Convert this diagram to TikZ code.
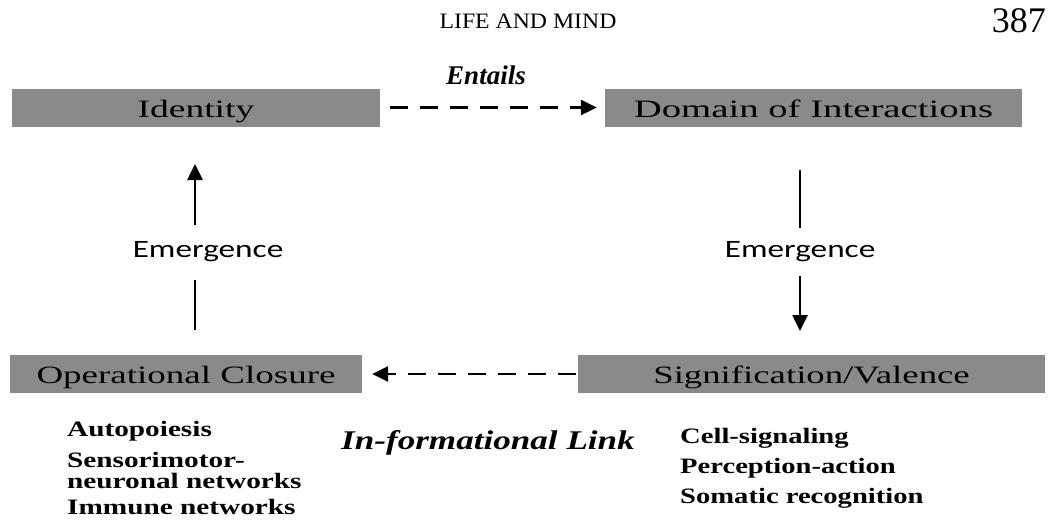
\documentclass[tikz,border=0pt]{standalone}
\usepackage{fontspec}
\setmainfont{Liberation Serif}
\newfontfamily\emfont{Carlito}
\usetikzlibrary{arrows.meta}
\definecolor{boxgray}{HTML}{8A8A8A}
\newcommand{\wide}[2]{\scalebox{#1}[1]{#2}}
\tikzset{
  box/.style={fill=boxgray, draw=none, minimum height=38pt, inner sep=0pt,
    text height=19pt, text depth=0pt, font=\fontsize{25}{30}\selectfont},
  dline/.style={line width=2.6pt, dash pattern=on 18pt off 12pt, -{Triangle[length=16pt,width=15pt]}},
  sline/.style={line width=2.6pt},
  sarrow/.style={line width=2.6pt, -{Triangle[length=16pt,width=15pt]}},
  emlab/.style={font=\emfont\fontsize{25}{28}\selectfont},
  item/.style={font=\bfseries\fontsize{22}{30}\selectfont, anchor=west, align=left, inner sep=0pt},
}
\begin{document}
\begin{tikzpicture}[x=1pt,y=-1pt]
\useasboundingbox (0,0) rectangle (1056,520);
% header
\node[font=\fontsize{22}{24}\selectfont] (hdr) at (528,21) {\wide{1.08}{LIFE AND MIND}};
\node[font=\fontsize{36}{38}\selectfont, anchor=east, inner sep=0pt] (pg) at (1046,21) {387};
% boxes
\node[box, minimum width=368pt] (id) at (196,107.5) {\wide{1.5}{Identity}};
\node[box, minimum width=417pt] (dom) at (813.5,107.5) {\wide{1.55}{Domain of Interactions}};
\node[box, minimum width=352pt] (op) at (186,374) {\wide{1.48}{Operational Closure}\hspace{28pt}};
\node[box, minimum width=467pt] (sig) at (811.5,374) {\wide{1.47}{Signification/Valence}};
% labels
\node[font=\bfseries\itshape\fontsize{27}{30}\selectfont] (ent) at (486,75) {Entails};
\node[emlab] (em1) at (208,252) {\wide{1.33}{Emergence}};
\node[emlab] (em2) at (800,252) {\wide{1.33}{Emergence}};
\node[font=\bfseries\itshape\fontsize{27}{30}\selectfont] (inf) at (488,443) {\wide{1.3}{In-formational Link}};
% dashed arrows
\draw[dline] ([xshift=10pt]id.east) -- ([xshift=-8pt]dom.west);
\draw[dline] ([xshift=-2pt]sig.west) -- ([xshift=10pt]op.east);
% vertical connectors
\coordinate (l1) at (195,330);
\coordinate (l2) at (195,280);
\coordinate (l3) at (195,225);
\coordinate (l4) at (195,164);
\draw[sline] (l1) -- (l2);
\draw[sarrow] (l3) -- (l4);
\coordinate (r1) at (800,170);
\coordinate (r2) at (800,228);
\coordinate (r3) at (800,276);
\coordinate (r4) at (800,331);
\draw[sline] (r1) -- (r2);
\draw[sarrow] (r3) -- (r4);
% lists
\node[item] (a1) at (67,431) {\wide{1.33}{Autopoiesis}};
\node[item] (a2) at (67,460) {\wide{1.33}{Sensorimotor-}};
\node[item] (a2b) at (67,481) {\wide{1.33}{neuronal networks}};
\node[item] (a3) at (67,507) {\wide{1.33}{Immune networks}};
\node[item] (b1) at (680,438) {\wide{1.3}{Cell-signaling}};
\node[item] (b2) at (680,468) {\wide{1.3}{Perception-action}};
\node[item] (b3) at (680,498) {\wide{1.3}{Somatic recognition}};
\end{tikzpicture}
\end{document}
